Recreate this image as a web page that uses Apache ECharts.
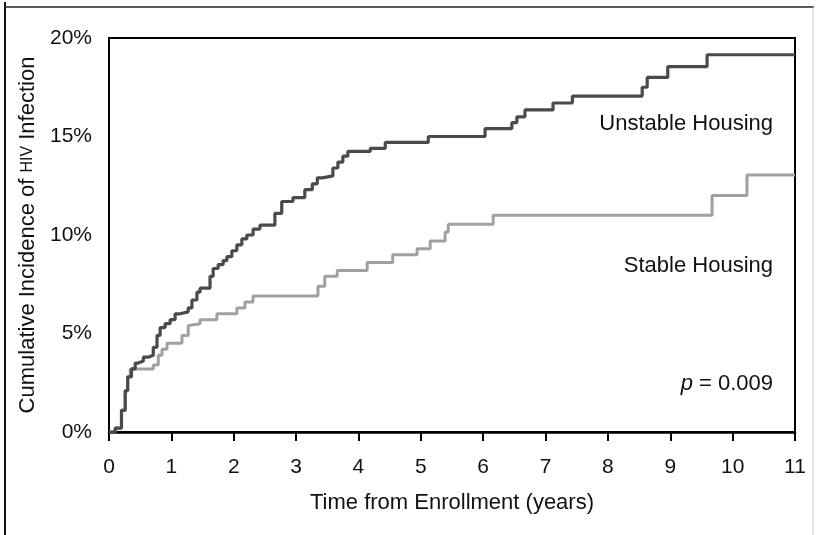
<!DOCTYPE html>
<html>
<head>
<meta charset="utf-8">
<script src="https://cdn.jsdelivr.net/npm/echarts@6/dist/echarts.min.js"></script>
<style>
html,body{margin:0;padding:0;background:#fff;}
#chart{width:816px;height:535px;}
</style>
</head>
<body>
<div id="chart"></div>
<script>
// Time (years) and cumulative incidence (%) at each step
var unstableTimes = [0,0.10,0.20,0.26,0.30,0.36,0.42,0.47,0.55,0.63,0.71,0.77,0.82,0.90,0.98,1.06,1.14,1.27,1.33,1.41,1.46,1.62,1.67,1.75,1.83,1.89,1.97,2.05,2.13,2.21,2.31,2.42,2.66,2.77,2.95,3.14,3.26,3.34,3.42,3.59,3.67,3.75,3.83,4.19,4.43,5.12,6.03,6.46,6.54,6.67,7.12,7.43,8.55,8.63,8.96,9.59,11];
var unstableValues = [0,0.2,1.1,2.1,2.8,3.2,3.5,3.6,3.8,3.9,4.3,4.9,5.3,5.5,5.7,6.0,6.1,6.3,6.7,7.1,7.3,7.9,8.3,8.5,8.7,8.9,9.2,9.5,9.8,10.0,10.3,10.5,11.1,11.7,11.9,12.3,12.6,12.9,13.0,13.4,13.7,14.0,14.25,14.4,14.7,15.0,15.4,15.7,16.0,16.35,16.7,17.05,17.5,18.0,18.55,19.15,19.15];
var stableTimes = [0,0.10,0.20,0.26,0.30,0.34,0.71,0.79,0.85,0.93,1.17,1.27,1.30,1.46,1.73,2.05,2.18,2.31,3.35,3.46,3.66,4.14,4.55,4.94,5.15,5.39,5.44,6.16,9.67,10.23,11];
var stableValues = [0,0.2,1.1,2.1,2.8,3.2,3.4,3.9,4.2,4.5,4.9,5.4,5.5,5.7,6.0,6.3,6.6,6.9,7.4,7.9,8.2,8.6,9.0,9.3,9.7,10.15,10.55,11.0,12.0,13.05,13.05];
var xTicks = [0,1,2,3,4,5,6,7,8,9,10,11];
var yTicks = [0,5,10,15,20];
var labels = {unstable:'Unstable Housing', stable:'Stable Housing', pval:'p = 0.009'};

function zip(a,b){return a.map(function(t,i){return [t,b[i]];});}

var chart = echarts.init(document.getElementById('chart'), null, {renderer:'canvas'});
var FONT = 'Liberation Sans, Arial, Helvetica, sans-serif';
chart.setOption({
  animation:false,
  backgroundColor:'#fff',
  grid:{left:109,top:38,right:21,bottom:103,show:true,borderColor:'#000',borderWidth:2,backgroundColor:'transparent'},
  xAxis:{
    type:'value',min:xTicks[0],max:xTicks[xTicks.length-1],interval:1,
    name:'Time from Enrollment (years)',nameLocation:'middle',nameGap:60,
    nameTextStyle:{fontFamily:FONT,fontSize:22,color:'#111'},
    axisLine:{show:true,lineStyle:{color:'#000',width:2.5}},
    axisTick:{show:true,inside:false,length:9,lineStyle:{color:'#000',width:2}},
    axisLabel:{fontFamily:FONT,fontSize:21,color:'#111',margin:25},
    splitLine:{show:false}
  },
  yAxis:{
    type:'value',min:yTicks[0],max:yTicks[yTicks.length-1],interval:5,
    name:'Cumulative Incidence of {sc|HIV} Infection',nameLocation:'middle',nameGap:69,nameRotate:90,
    nameTextStyle:{fontFamily:FONT,fontSize:22,color:'#111',rich:{sc:{fontFamily:FONT,fontSize:16,color:'#111'}}},
    axisLine:{show:true,lineStyle:{color:'#000',width:2}},
    axisTick:{show:false},
    axisLabel:{fontFamily:FONT,fontSize:21,color:'#111',margin:17,formatter:'{value}%',padding:[6,0,0,0]},
    splitLine:{show:false}
  },
  series:[
    {type:'line',step:'end',symbol:'none',data:zip(stableTimes,stableValues),lineStyle:{color:'#a0a0a0',width:3},z:2},
    {type:'line',step:'end',symbol:'none',data:zip(unstableTimes,unstableValues),lineStyle:{color:'#4a4a4a',width:3.2},z:3}
  ],
  graphic:[
    {type:'line',shape:{x1:5,y1:2,x2:5,y2:540},style:{stroke:'#111',lineWidth:2}},
    {type:'line',shape:{x1:4,y1:7,x2:814,y2:7},style:{stroke:'#222',lineWidth:1.5}},
    {type:'line',shape:{x1:813,y1:7,x2:813,y2:540},style:{stroke:'#c8c8c8',lineWidth:1}},
    {type:'text',x:773,y:124,style:{text:labels.unstable,font:'22px '+FONT,fill:'#111',align:'right',verticalAlign:'middle'}},
    {type:'text',x:773,y:266,style:{text:labels.stable,font:'22px '+FONT,fill:'#111',align:'right',verticalAlign:'middle'}},
    {type:'text',x:773,y:384,style:{text:'{i|p} = 0.009',font:'22px '+FONT,fill:'#111',align:'right',verticalAlign:'middle',rich:{i:{fontStyle:'italic',fontSize:22,fontFamily:FONT}}}}
  ]
});
</script>
</body>
</html>
